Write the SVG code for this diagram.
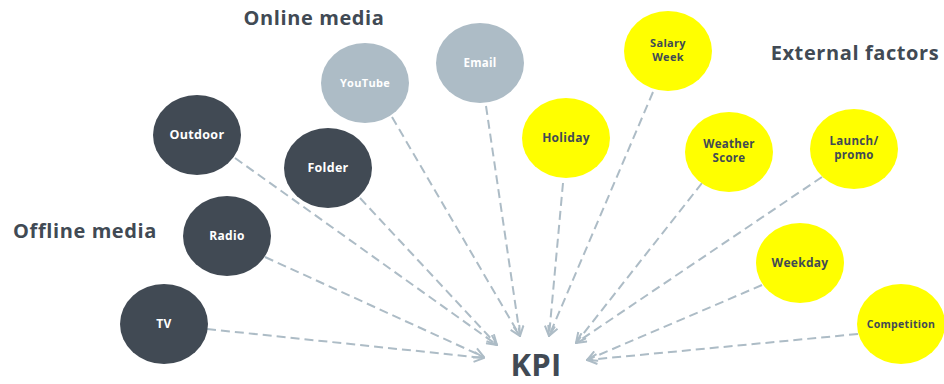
<svg xmlns="http://www.w3.org/2000/svg" width="944" height="384" viewBox="0 0 944 384">
<style>
.dark{fill:#414a54}
.light{fill:#adbcc6}
.yel{fill:#ffff00}
.lbl{font-family:"Open Sans","Liberation Sans",sans-serif;font-weight:700;text-anchor:middle;letter-spacing:0.3px}
.wt{fill:#ffffff}
.dt{fill:#414a54}
.title{font-family:"Open Sans","Liberation Sans",sans-serif;font-weight:700;font-size:20px;fill:#414a54;text-anchor:middle;letter-spacing:0.6px}
.conn{stroke:#adbcc6;stroke-width:2;stroke-dasharray:9 5;fill:none;marker-end:url(#arr)}
</style>
<defs>
<marker id="arr" viewBox="0 0 12 12" refX="11" refY="6" markerWidth="12" markerHeight="12" markerUnits="userSpaceOnUse" orient="auto">
<path d="M1,1 L11,6 L1,11" fill="none" stroke="#adbcc6" stroke-width="2"/>
</marker>
</defs>
<rect width="944" height="384" fill="#ffffff"/>
<g id="connectors">
<line class="conn" x1="207" y1="329" x2="484" y2="358"/>
<line class="conn" x1="265" y1="257" x2="484" y2="357"/>
<line class="conn" x1="235" y1="158" x2="497" y2="345"/>
<line class="conn" x1="360" y1="198" x2="497" y2="345"/>
<line class="conn" x1="392" y1="117" x2="520" y2="336"/>
<line class="conn" x1="486" y1="106" x2="520" y2="336"/>
<line class="conn" x1="563" y1="183" x2="549" y2="336"/>
<line class="conn" x1="653" y1="92" x2="549" y2="336"/>
<line class="conn" x1="702" y1="183" x2="576" y2="343"/>
<line class="conn" x1="822" y1="177" x2="576" y2="343"/>
<line class="conn" x1="762" y1="285" x2="587" y2="360"/>
<line class="conn" x1="858" y1="334" x2="587" y2="360"/>
</g>
<text class="title" x="314" y="25">Online media</text>
<text class="title" x="85" y="238">Offline media</text>
<text class="title" x="855" y="60">External factors</text>
<g id="outdoor"><ellipse class="dark" cx="197" cy="135" rx="44" ry="40"/><text class="lbl wt" x="197" y="139" font-size="12.5">Outdoor</text></g>
<g id="folder"><ellipse class="dark" cx="328" cy="168" rx="44" ry="40"/><text class="lbl wt" x="328" y="172" font-size="12.5">Folder</text></g>
<g id="radio"><ellipse class="dark" cx="227" cy="236" rx="44" ry="40"/><text class="lbl wt" x="227" y="240" font-size="12">Radio</text></g>
<g id="tv"><ellipse class="dark" cx="164" cy="324" rx="44" ry="40"/><text class="lbl wt" x="164" y="328" font-size="12">TV</text></g>
<g id="youtube"><ellipse class="light" cx="365" cy="83" rx="44" ry="40"/><text class="lbl wt" x="365" y="87" font-size="11">YouTube</text></g>
<g id="email"><ellipse class="light" cx="480" cy="63" rx="44" ry="40"/><text class="lbl wt" x="480" y="67" font-size="11.5">Email</text></g>
<g id="holiday"><ellipse class="yel" cx="566" cy="138" rx="44" ry="40"/><text class="lbl dt" x="566" y="142" font-size="12">Holiday</text></g>
<g id="salary"><ellipse class="yel" cx="668" cy="51" rx="44" ry="40"/><text class="lbl dt" x="668" y="47" font-size="11">Salary</text><text class="lbl dt" x="668" y="61" font-size="11">Week</text></g>
<g id="weather"><ellipse class="yel" cx="729" cy="152" rx="44" ry="40"/><text class="lbl dt" x="729" y="148" font-size="11.5">Weather</text><text class="lbl dt" x="729" y="162" font-size="11.5">Score</text></g>
<g id="launch"><ellipse class="yel" cx="854" cy="149" rx="44" ry="40"/><text class="lbl dt" x="854" y="145" font-size="11.5">Launch/</text><text class="lbl dt" x="854" y="159" font-size="11.5">promo</text></g>
<g id="weekday"><ellipse class="yel" cx="800" cy="263" rx="44" ry="40"/><text class="lbl dt" x="800" y="267" font-size="12">Weekday</text></g>
<g id="competition"><ellipse class="yel" cx="901" cy="324" rx="44" ry="40"/><text class="lbl dt" x="901" y="328" font-size="10.5">Competition</text></g>
<g id="kpi"><text class="lbl dt" x="536" y="376" font-size="31" letter-spacing="0">KPI</text></g>
</svg>
